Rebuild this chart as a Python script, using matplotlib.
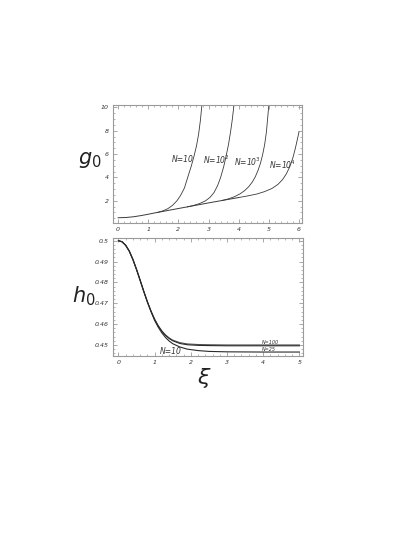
import matplotlib
matplotlib.use("Agg")
import matplotlib.pyplot as plt
from matplotlib.ticker import MultipleLocator, FixedLocator

plt.rcParams['font.family'] = ['DejaVu Sans']
plt.rcParams['mathtext.fontset'] = 'dejavusans'

# ---------------- data: g0 (top panel) ----------------
xi_base = [0, 0.25, 0.5, 0.75, 1.0, 1.25, 1.5, 1.75, 2.0, 2.5, 3.0, 3.5, 4.0]
g_base = [0.55, 0.57, 0.63, 0.73, 0.85, 0.98, 1.10, 1.22, 1.34, 1.58, 1.82, 2.05, 2.28]

xi_N1 = [1.3, 1.5, 1.65, 1.8, 1.95, 2.07, 2.2, 2.32, 2.43, 2.52, 2.6, 2.67, 2.73, 2.79]
g_N1 = [1.00, 1.15, 1.33, 1.60, 2.0, 2.45, 3.1, 4.1, 5.0, 5.85, 6.7, 7.7, 8.9, 10.5]

xi_N2 = [2.3, 2.5, 2.7, 2.9, 3.05, 3.18, 3.3, 3.4, 3.5, 3.58, 3.66, 3.73, 3.79, 3.86]
g_N2 = [1.48, 1.60, 1.76, 2.0, 2.3, 2.7, 3.3, 4.0, 4.9, 5.8, 6.8, 7.9, 9.0, 10.6]

xi_N3 = [3.45, 3.65, 3.85, 4.05, 4.2, 4.33, 4.45, 4.55, 4.64, 4.72, 4.79, 4.86, 4.92, 5.01]
g_N3 = [2.03, 2.16, 2.34, 2.6, 2.88, 3.2, 3.6, 4.05, 4.6, 5.2, 5.9, 6.8, 7.9, 10.5]

xi_N4 = [4.0, 4.3, 4.6, 4.85, 5.1, 5.3, 5.45, 5.58, 5.7, 5.8, 5.88, 5.95, 6.0]
g_N4 = [2.28, 2.42, 2.58, 2.78, 3.05, 3.4, 3.8, 4.3, 4.95, 5.7, 6.5, 7.3, 7.9]

g_labels = ["N=10", "N=10$^2$", "N=10$^3$", "N=10$^4$"]
g_label_xi = [1.77, 2.8, 3.86, 5.02]
g_label_g = [5.56, 5.5, 5.35, 5.1]

# ---------------- data: h0 (bottom panel) ----------------
xi_h = [0, 0.1, 0.2, 0.3, 0.4, 0.5, 0.6, 0.7, 0.8, 0.9, 1.0, 1.1, 1.2, 1.3,
        1.4, 1.5, 1.7, 1.9, 2.2, 2.5, 3.0, 4.0, 5.0]
h_N100 = [0.5000, 0.4995, 0.4978, 0.4950, 0.4910, 0.4862, 0.4810, 0.4757, 0.4707,
          0.4662, 0.4623, 0.4592, 0.4567, 0.4548, 0.4534, 0.4523, 0.4511, 0.4505,
          0.4502, 0.4501, 0.4500, 0.4500, 0.4500]
h_N25 = [0.5000, 0.4995, 0.4978, 0.4950, 0.4910, 0.4862, 0.4810, 0.4757, 0.4707,
         0.4662, 0.4623, 0.4591, 0.4566, 0.4546, 0.4531, 0.4520, 0.4507, 0.4501,
         0.4498, 0.4497, 0.4496, 0.4496, 0.4496]
h_N10 = [0.5000, 0.4995, 0.4978, 0.4950, 0.4910, 0.4862, 0.4810, 0.4757, 0.4706,
         0.4660, 0.4618, 0.4585, 0.4558, 0.4536, 0.4519, 0.4506, 0.4490, 0.4480,
         0.4473, 0.4469, 0.4467, 0.4466, 0.4466]

h_labels = ["N=100", "N=25", "N=10"]
h_label_xi = [3.97, 3.97, 1.15]
h_label_h = [0.4512, 0.4478, 0.4470]

# ---------------- figure ----------------
W, H = 415, 537
fig = plt.figure(figsize=(W / 100, H / 100), dpi=100)

def box(l, t, r, b):
    return [l / W, 1 - b / H, (r - l) / W, (b - t) / H]

frame_col = '#9a9a9a'
line_col = '#3a3a3a'
tick_col = '#333333'

def style(ax):
    for s in ax.spines.values():
        s.set_color(frame_col)
        s.set_linewidth(0.8)
    ax.tick_params(which='both', direction='in', top=True, right=True,
                   color=frame_col, labelcolor=tick_col, labelsize=4.5, pad=3)
    ax.tick_params(which='major', length=3, width=0.6)
    ax.tick_params(which='minor', length=1.5, width=0.5)
    for lab in ax.get_xticklabels() + ax.get_yticklabels():
        lab.set_fontstyle('italic')

ax1 = fig.add_axes(box(113, 105, 302, 223))
ax1.plot(xi_base, g_base, color=line_col, lw=0.7)
for xs, gs in [(xi_N1, g_N1), (xi_N2, g_N2), (xi_N3, g_N3), (xi_N4, g_N4)]:
    ax1.plot(xs, gs, color=line_col, lw=0.6)
ax1.set_xlim(-0.17, 6.1)
ax1.set_ylim(0.1, 10.2)
ax1.xaxis.set_major_locator(MultipleLocator(1))
ax1.xaxis.set_minor_locator(MultipleLocator(0.2))
ax1.yaxis.set_major_locator(FixedLocator([2, 4, 6, 8, 10]))
ax1.yaxis.set_minor_locator(MultipleLocator(0.5))
style(ax1)
for t, x, y in zip(g_labels, g_label_xi, g_label_g):
    ax1.text(x, y, t, fontsize=5.5, style='italic', color=tick_col,
             ha='left', va='center')

ax2 = fig.add_axes(box(113, 238, 303, 356))
ax2.plot(xi_h, h_N100, color='#555555', lw=0.8)
ax2.plot(xi_h, h_N25, color='#2a2a2a', lw=0.8)
ax2.plot(xi_h, h_N10, color='#2a2a2a', lw=0.8)
ax2.set_xlim(-0.15, 5.1)
ax2.set_ylim(0.4447, 0.5013)
ax2.xaxis.set_major_locator(MultipleLocator(1))
ax2.xaxis.set_minor_locator(MultipleLocator(0.2))
ax2.yaxis.set_major_locator(FixedLocator([0.45, 0.46, 0.47, 0.48, 0.49, 0.5]))
ax2.yaxis.set_minor_locator(MultipleLocator(0.002))
ax2.set_yticklabels(["0.45", "0.46", "0.47", "0.48", "0.49", "0.5"])
style(ax2)
for t, x, y, fs in zip(h_labels, h_label_xi, h_label_h, [3.5, 3.5, 5.5]):
    ax2.text(x, y, t, fontsize=fs, style='italic', color=tick_col,
             ha='left', va='center')

fig.text(90 / W, 1 - 160 / H, r'$g_0$', fontsize=15, ha='center', va='center',
         color='#222222')
fig.text(84 / W, 1 - 296 / H, r'$h_0$', fontsize=15, ha='center', va='center',
         color='#222222')
fig.text(204 / W, 1 - 378 / H, r'$\xi$', fontsize=16, ha='center', va='center',
         color='#222222')

fig.savefig("out.png", dpi=100)
